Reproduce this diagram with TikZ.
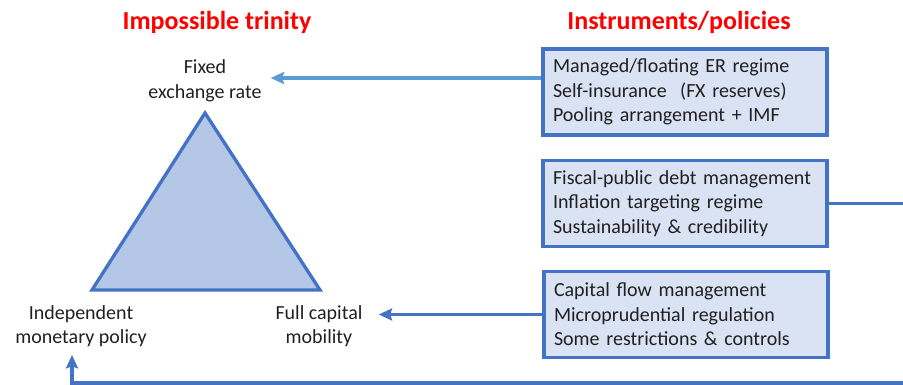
\documentclass[tikz,border=0pt]{standalone}
\usepackage{fontspec}
\setmainfont{Carlito}
\usetikzlibrary{arrows.meta,calc}
\definecolor{edgeblue}{HTML}{4472C4}
\definecolor{lightblue}{HTML}{5B9BD5}
\definecolor{boxfill}{HTML}{DAE3F3}
\definecolor{trifill}{HTML}{B4C7E7}
\definecolor{txt}{HTML}{202020}
\begin{document}
\begin{tikzpicture}[x=0.75pt,y=-0.75pt,
  title/.style={text=red,font=\fontsize{19.5}{23}\selectfont\bfseries,inner sep=0pt},
  corner/.style={text=txt,font=\fontsize{15}{18.4}\selectfont,align=center,inner sep=0pt},
  policybox/.style={draw=edgeblue,fill=boxfill,line width=2.4pt,text=txt,
    font=\fontsize{15}{18.4}\selectfont,align=left,text width=264*0.75pt,
    inner xsep=10*0.75pt,inner ysep=0pt,minimum height=86*0.75pt},
  tip/.style={-{Stealth[length=10pt,width=9pt,inset=1.5pt]}},
  darkarrow/.style={tip,draw=edgeblue,line width=2.3pt},
  lightarrow/.style={tip,draw=lightblue,line width=2.3pt}]
\useasboundingbox (0,0) rectangle (903,385);
\clip (0,0) rectangle (903,385);

% headings
\node[title] (ht) at (217,22) {Impossible trinity};
\node[title] (hi) at (679,22) {Instruments/policies};

% the trinity triangle
\draw[draw=edgeblue,fill=trifill,line width=2.5pt,line join=miter]
  (205,113) -- (320,290) -- (92,290) -- cycle;

% corner labels
\node[corner] (fer) at (205,81) {Fixed\\exchange rate};
\node[corner] (imp) at (81,326) {Independent\\monetary policy};
\node[corner] (fcm) at (319,326) {Full capital\\mobility};

% instruments
\node[policybox] (b1) at (685,92) {Managed/floating ER regime\\Self-insurance\ \ (FX reserves)\\Pooling arrangement + IMF};
\node[policybox] (b2) at (685,203.5) {Fiscal-public debt management\\Inflation targeting regime\\Sustainability \& credibility};
\node[policybox,minimum width=282*0.75pt] (b3) at (686,314.5) {Capital flow management\\Microprudential regulation\\Some restrictions \& controls};

% connectors
\coordinate (ferin) at ([xshift=6.75pt,yshift=2.25pt]fer.east);
\draw[lightarrow] (ferin -| b1.west) -- (ferin);
\coordinate (fcmin) at ([xshift=12pt]fcm.east |- b3.west);
\draw[darkarrow] (b3.west) -- (fcmin);
\coordinate (loopr) at (930,203.5);
\coordinate (loopb) at (930,383);
\coordinate (impin) at (72,355);
\draw[darkarrow,line join=miter] (b2.east) -- (loopr) -- (loopb) -- (impin |- loopb) -- (impin);
\end{tikzpicture}
\end{document}
